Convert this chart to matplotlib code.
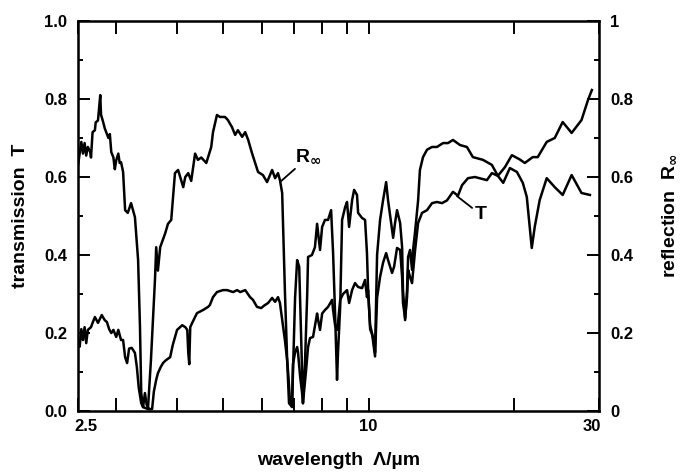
import matplotlib
matplotlib.use("Agg")
import matplotlib.pyplot as plt
import matplotlib.transforms as mtransforms
from matplotlib.ticker import FixedLocator, NullFormatter

# reflection R_inf of the powder, wavelength in um
wl_r = [2.50, 2.52, 2.54, 2.56, 2.58, 2.60, 2.62, 2.65, 2.66, 2.68, 2.71, 2.72, 2.75, 2.78,
        2.79, 2.82, 2.84, 2.89, 2.91, 2.93, 2.96, 2.98, 3.00, 3.03, 3.05, 3.07, 3.10, 3.11,
        3.13, 3.17, 3.22, 3.28, 3.33, 3.36, 3.38, 3.41, 3.49, 3.54, 3.61, 3.63, 3.66,
        3.70, 3.79, 3.84, 3.90, 3.97, 4.03, 4.13, 4.17, 4.23, 4.29, 4.37, 4.43, 4.50, 4.61,
        4.72, 4.76, 4.85, 4.92, 5.04, 5.11, 5.21, 5.29, 5.36, 5.47, 5.55, 5.63, 5.73, 5.82,
        5.90, 6.04, 6.16, 6.31, 6.40, 6.49, 6.55, 6.62, 6.65, 6.71, 6.78, 6.84, 6.94, 6.97,
        7.04, 7.11, 7.18, 7.24, 7.31, 7.38, 7.46, 7.49, 7.63, 7.74, 7.82, 7.93, 8.01, 8.12,
        8.24, 8.36, 8.44, 8.52, 8.60, 8.64, 8.73, 8.81, 8.94, 9.02, 9.11, 9.24, 9.33, 9.46,
        9.51, 9.69, 9.83, 9.92, 9.97, 10.07, 10.21, 10.31, 10.41, 10.56, 10.71, 10.87, 10.97,
        11.13, 11.24, 11.34, 11.45, 11.62, 11.73, 11.78, 11.90, 12.01, 12.07, 12.18, 12.30,
        12.36, 12.47, 12.66, 12.77, 12.96, 13.21, 13.53, 13.85, 14.26, 14.60, 14.95, 15.46,
        15.98, 16.44, 17.25, 18.00, 18.52, 19.00, 19.61, 20.28, 20.86, 21.26, 21.56, 21.77,
        22.08, 22.61, 23.38, 24.29, 25.23, 26.33, 27.60, 28.73]
refl = [0.63, 0.66, 0.69, 0.66, 0.687, 0.655, 0.677, 0.664, 0.65, 0.715, 0.72, 0.74, 0.745, 0.81,
        0.76, 0.74, 0.725, 0.70, 0.71, 0.664, 0.65, 0.62, 0.643, 0.66, 0.636, 0.638, 0.613, 0.58,
        0.515, 0.508, 0.533, 0.497, 0.387, 0.215, 0.046, 0.01, 0.005, 0.13, 0.34, 0.42, 0.36,
        0.42, 0.456, 0.48, 0.49, 0.61, 0.618, 0.574, 0.60, 0.61, 0.59, 0.66, 0.644, 0.65, 0.636,
        0.677, 0.715, 0.759, 0.754, 0.754, 0.746, 0.728, 0.708, 0.72, 0.703, 0.715, 0.695, 0.662, 0.636,
        0.613, 0.605, 0.587, 0.618, 0.597, 0.61, 0.592, 0.559, 0.472, 0.30, 0.13, 0.02, 0.01, 0.10,
        0.29, 0.387, 0.37, 0.21, 0.02, 0.12, 0.30, 0.395, 0.40, 0.42, 0.48, 0.413, 0.472, 0.49,
        0.49, 0.515, 0.405, 0.25, 0.08, 0.15, 0.267, 0.49, 0.523, 0.536, 0.472, 0.54, 0.567, 0.554,
        0.508, 0.495, 0.49, 0.405, 0.318, 0.21, 0.19, 0.15, 0.40, 0.49, 0.54, 0.587, 0.54,
        0.482, 0.444, 0.482, 0.515, 0.482, 0.42, 0.31, 0.233, 0.31, 0.395, 0.413, 0.362,
        0.413, 0.456, 0.54, 0.618, 0.651, 0.67, 0.677, 0.677, 0.687, 0.687, 0.695, 0.682,
        0.677, 0.651, 0.644, 0.631, 0.603, 0.585, 0.623, 0.613, 0.585, 0.549, 0.472, 0.418,
        0.472, 0.541, 0.597, 0.574, 0.554, 0.605, 0.559, 0.554]

# transmission T of the pellet
wl_t = [2.50, 2.52, 2.54, 2.56, 2.58, 2.60, 2.62, 2.66, 2.68, 2.71, 2.75, 2.80, 2.84, 2.87,
        2.90, 2.93, 2.96, 3.00, 3.03, 3.07, 3.10, 3.13, 3.16, 3.19, 3.23, 3.28, 3.31, 3.34,
        3.38, 3.41, 3.44, 3.47, 3.51, 3.56, 3.59, 3.63, 3.66, 3.71, 3.75, 3.80, 3.88, 3.93,
        4.01, 4.11, 4.17, 4.21, 4.23, 4.25, 4.27, 4.31, 4.41, 4.54, 4.65, 4.69, 4.76, 4.85,
        4.99, 5.09, 5.24, 5.34, 5.42, 5.55, 5.68, 5.76, 5.87, 5.99, 6.07, 6.19, 6.31, 6.40,
        6.49, 6.55, 6.65, 6.71, 6.78, 6.81, 6.87, 6.94, 6.97, 7.04, 7.11, 7.14, 7.21, 7.28,
        7.31, 7.42, 7.49, 7.56, 7.67, 7.82, 7.86, 7.93, 8.01, 8.12, 8.24, 8.40, 8.44, 8.52,
        8.60, 8.64, 8.73, 8.85, 9.02, 9.11, 9.24, 9.37, 9.51, 9.69, 9.83, 9.92, 9.97, 10.07,
        10.16, 10.31, 10.41, 10.56, 10.71, 10.87, 10.97, 11.18, 11.29, 11.45, 11.62, 11.73,
        11.78, 11.90, 12.01, 12.07, 12.18, 12.30, 12.48, 12.66, 12.90, 13.21, 13.53, 13.85,
        14.19, 14.53, 14.95, 15.31, 15.61, 16.06, 16.60, 17.58, 18.00, 18.52, 19.15, 19.80,
        20.56, 21.06, 21.87, 22.40, 23.38, 24.29, 25.23, 26.33, 27.60, 28.46, 29.00]
trans = [0.18, 0.165, 0.21, 0.182, 0.215, 0.174, 0.208, 0.215, 0.226, 0.241, 0.226, 0.246, 0.233, 0.228,
         0.21, 0.20, 0.208, 0.19, 0.208, 0.182, 0.182, 0.138, 0.123, 0.16, 0.162, 0.149, 0.113, 0.06,
         0.02, 0.01, 0.046, 0.015, 0.005, 0.005, 0.05, 0.08, 0.097, 0.113, 0.123, 0.13, 0.138, 0.17,
         0.208, 0.22, 0.215, 0.208, 0.15, 0.12, 0.215, 0.226, 0.251, 0.259, 0.267, 0.272, 0.292, 0.305,
         0.31, 0.31, 0.305, 0.31, 0.305, 0.31, 0.292, 0.285, 0.267, 0.264, 0.27, 0.277, 0.29, 0.28,
         0.292, 0.277, 0.215, 0.18, 0.13, 0.10, 0.028, 0.015, 0.12, 0.15, 0.164, 0.15, 0.09, 0.046,
         0.02, 0.105, 0.164, 0.187, 0.19, 0.25, 0.233, 0.208, 0.25, 0.259, 0.267, 0.285, 0.259, 0.22,
         0.208, 0.226, 0.285, 0.30, 0.31, 0.277, 0.31, 0.328, 0.318, 0.315, 0.336, 0.292, 0.31, 0.22,
         0.20, 0.14, 0.29, 0.344, 0.38, 0.405, 0.387, 0.354, 0.37, 0.418, 0.413, 0.344,
         0.277, 0.238, 0.292, 0.362, 0.344, 0.328, 0.413, 0.482, 0.508, 0.515, 0.533, 0.536,
         0.533, 0.54, 0.562, 0.552, 0.579, 0.597, 0.60, 0.592, 0.61, 0.603, 0.625, 0.656,
         0.645, 0.636, 0.651, 0.651, 0.69, 0.70, 0.741, 0.713, 0.746, 0.797, 0.823]

x_major = [2.5, 10, 30]
x_major_labels = ["2.5", "10", "30"]
x_minor = [3, 4, 5, 6, 7, 8, 9, 20]
y_ticks = [0.0, 0.2, 0.4, 0.6, 0.8, 1.0]
y_minor = [0.1, 0.3, 0.5, 0.7, 0.9]
left_labels = ["0.0", "0.2", "0.4", "0.6", "0.8", "1.0"]
right_labels = ["0", "0.2", "0.4", "0.6", "0.8", "1"]

plt.rcParams["font.family"] = ["Liberation Sans", "DejaVu Sans"]
plt.rcParams["font.weight"] = "bold"
plt.rcParams["axes.labelweight"] = "bold"
plt.rcParams["mathtext.default"] = "bf"

fig = plt.figure(figsize=(6.83, 4.72), dpi=100)
ax = fig.add_axes([0.1142, 0.1292, 0.7628, 0.8263])
ax.plot(wl_r, refl, color="black", lw=1.8)
ax.plot(wl_t, trans, color="black", lw=1.8)

ax.set_xscale("log")
ax.set_xlim(2.5, 30)
ax.set_ylim(0, 1)
ax.xaxis.set_major_locator(FixedLocator(x_major))
ax.set_xticklabels(x_major_labels)
ax.xaxis.set_minor_locator(FixedLocator(x_minor))
ax.xaxis.set_minor_formatter(NullFormatter())
ax.set_yticks(y_ticks)
ax.set_yticklabels(left_labels)
ax.set_yticks(y_minor, minor=True)

ax.tick_params(axis="x", which="both", direction="in", top=True, length=9.5, width=1.4,
               labelsize=12, pad=6)
ax.tick_params(axis="y", which="major", direction="in", length=8.5, width=1.4, labelsize=12, pad=8)
ax.tick_params(axis="y", which="minor", direction="in", length=3.8, width=1.4)
for s in ax.spines.values():
    s.set_linewidth(1.8)

# end labels sit a little inside the frame
xl = ax.get_xticklabels()
xl[0].set_transform(xl[0].get_transform() + mtransforms.ScaledTranslation(6 / 72, 0, fig.dpi_scale_trans))
xl[-1].set_transform(xl[-1].get_transform() + mtransforms.ScaledTranslation(-5 / 72, 0, fig.dpi_scale_trans))

ax2 = ax.twinx()
ax2.set_ylim(0, 1)
ax2.set_yticks(y_ticks)
ax2.set_yticklabels(right_labels)
ax2.set_yticks(y_minor, minor=True)
ax2.tick_params(axis="y", which="major", direction="in", length=8.5, width=1.4, labelsize=12, pad=8)
ax2.tick_params(axis="y", which="minor", direction="in", length=3.8, width=1.4)

ax.set_xlabel("wavelength  Λ/µm", fontsize=14, labelpad=13)
ax.set_ylabel("transmission  T", fontsize=14, labelpad=11)
ax2.set_ylabel("reflection  R$_\\infty$", fontsize=14, labelpad=20)

# curve labels with short leader lines
ax.annotate("R$_\\infty$", xy=(6.55, 0.587), xytext=(7.05, 0.628), fontsize=14,
            va="bottom", ha="left", arrowprops=dict(arrowstyle="-", color="black", lw=1.3,
                                                     shrinkA=0, shrinkB=0))
ax.annotate("T", xy=(15.24, 0.551), xytext=(16.6, 0.525), fontsize=14,
            va="top", ha="left", arrowprops=dict(arrowstyle="-", color="black", lw=1.3,
                                                  shrinkA=0, shrinkB=0))

plt.savefig("out.png", dpi=100)
